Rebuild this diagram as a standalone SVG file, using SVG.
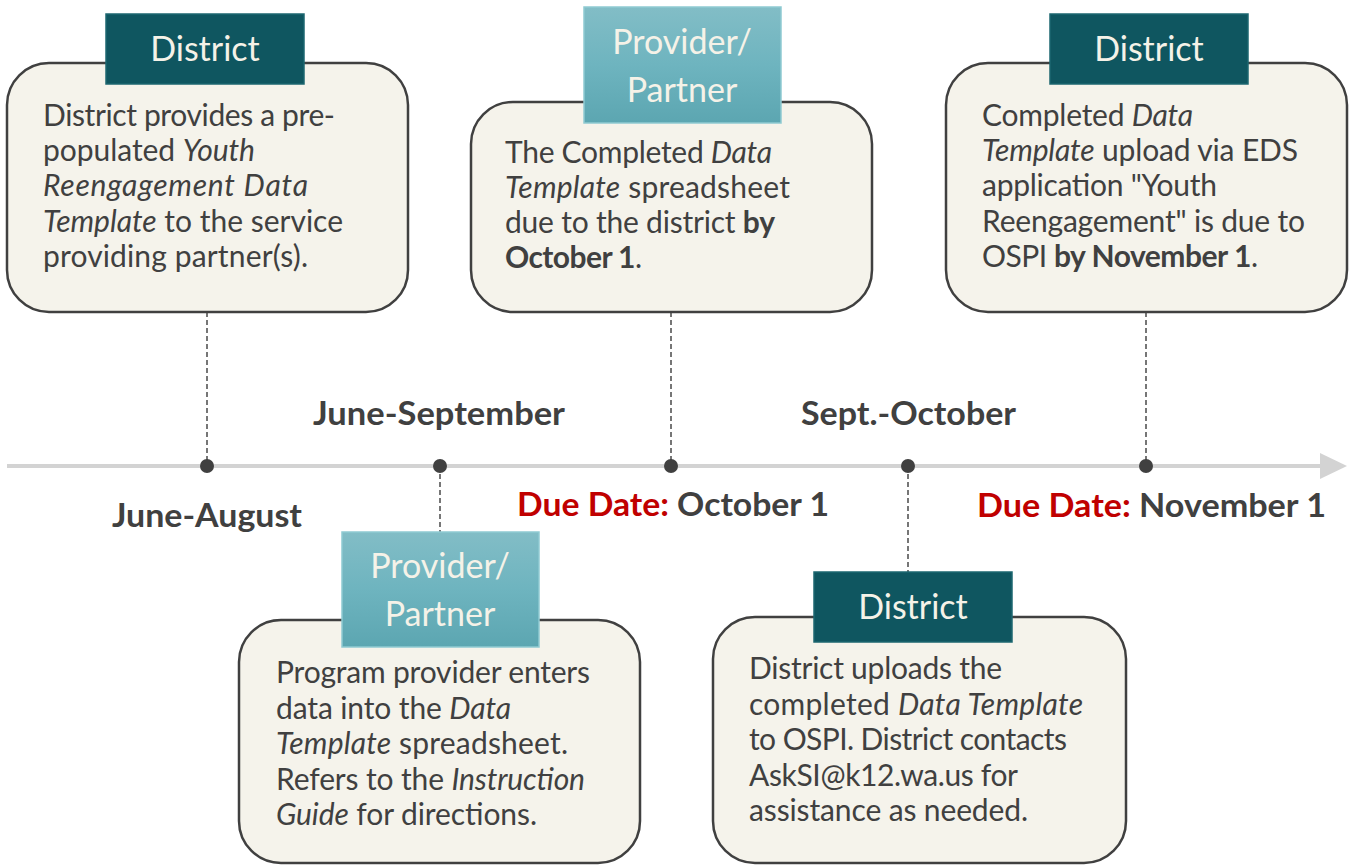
<svg xmlns="http://www.w3.org/2000/svg" width="1352" height="865" viewBox="0 0 1352 865">
<defs>
<linearGradient id="gLight" x1="0" y1="0" x2="0" y2="1">
<stop offset="0" stop-color="#82BDC6"/>
<stop offset="0.5" stop-color="#6EB4BF"/>
<stop offset="1" stop-color="#5CA6B1"/>
</linearGradient>
<marker id="arrow" markerWidth="27" markerHeight="26" refX="0" refY="13" orient="auto" markerUnits="userSpaceOnUse">
<path d="M0,0 L27,13 L0,26 Z" fill="#D3D3D3"/>
</marker>
</defs>
<style>
.box{fill:#F5F3EB;stroke:#404040;stroke-width:2.5}
.hdark{fill:#0F5660;stroke:#1C6770;stroke-width:1.5}
.hlight{fill:url(#gLight);stroke:#8FCAD2;stroke-width:1.5}
.htxt{font-family:Lato,"Open Sans",sans-serif;font-size:34px;fill:#F5F2E8;text-anchor:middle}
.body{font-family:Lato,"Open Sans",sans-serif;font-size:30px;fill:#404040}
.i{font-style:italic}
.b{font-weight:bold}
.lbl{font-family:Lato,"Open Sans",sans-serif;font-size:33px;font-weight:bold;fill:#404040}
.red{fill:#C00000}
.dash{stroke:#4A4A4A;stroke-width:1.5;stroke-dasharray:5 3;fill:none}
.dot{fill:#404040}
</style>
<rect width="1352" height="865" fill="#FFFFFF"/>

<g id="connectors">
<line x1="7" y1="466" x2="1320" y2="466" stroke="#D3D3D3" stroke-width="4" marker-end="url(#arrow)"/>
<line class="dash" x1="207" y1="312" x2="207" y2="466"/>
<line class="dash" x1="671" y1="312" x2="671" y2="466"/>
<line class="dash" x1="1146" y1="312" x2="1146" y2="466"/>
<line class="dash" x1="440" y1="466" x2="440" y2="532"/>
<line class="dash" x1="908" y1="466" x2="908" y2="572"/>
<circle class="dot" cx="207" cy="466" r="7"/>
<circle class="dot" cx="440" cy="466" r="7"/>
<circle class="dot" cx="671" cy="466" r="7"/>
<circle class="dot" cx="908" cy="466" r="7"/>
<circle class="dot" cx="1146" cy="466" r="7"/>
</g>

<g id="labels">
<text class="lbl" x="313" y="425" textLength="252" lengthAdjust="spacingAndGlyphs">June-September</text>
<text class="lbl" x="112" y="527" textLength="190" lengthAdjust="spacingAndGlyphs">June-August</text>
<text class="lbl" x="801" y="425" textLength="215" lengthAdjust="spacingAndGlyphs">Sept.-October</text>
<text class="lbl" x="517" y="516" textLength="312" lengthAdjust="spacingAndGlyphs"><tspan class="red">Due Date:</tspan> October 1</text>
<text class="lbl" x="977" y="517" textLength="349" lengthAdjust="spacingAndGlyphs"><tspan class="red">Due Date:</tspan> November 1</text>
</g>

<g id="node1">
<rect class="box" x="7" y="63" width="401" height="249" rx="42"/>
<rect class="hdark" x="106" y="14" width="198" height="70"/>
<text class="htxt" x="205" y="61">District</text>
<text class="body" x="43" y="126" textLength="292">District provides a pre-</text>
<text class="body" x="43" y="161" textLength="212">populated <tspan class="i">Youth</tspan></text>
<text class="body i" x="43" y="196" textLength="265">Reengagement Data</text>
<text class="body" x="43" y="232" textLength="300"><tspan class="i">Template</tspan> to the service</text>
<text class="body" x="43" y="267" textLength="265">providing partner(s).</text>
</g>

<g id="node2">
<rect class="box" x="471" y="102" width="401" height="210" rx="42"/>
<rect class="hlight" x="584" y="7" width="197" height="116"/>
<text class="htxt" x="682" y="54">Provider/</text>
<text class="htxt" x="682" y="102">Partner</text>
<text class="body" x="505" y="163" textLength="267">The Completed <tspan class="i">Data</tspan></text>
<text class="body" x="505" y="198" textLength="285"><tspan class="i">Template</tspan> spreadsheet</text>
<text class="body" x="505" y="233" textLength="270">due to the district <tspan class="b">by</tspan></text>
<text class="body" x="505" y="268" textLength="137"><tspan class="b">October 1</tspan>.</text>
</g>

<g id="node3">
<rect class="box" x="946" y="63" width="401" height="249" rx="42"/>
<rect class="hdark" x="1050" y="14" width="198" height="70"/>
<text class="htxt" x="1149" y="61">District</text>
<text class="body" x="982" y="126" textLength="211">Completed <tspan class="i">Data</tspan></text>
<text class="body" x="982" y="161" textLength="316"><tspan class="i">Template</tspan> upload via EDS</text>
<text class="body" x="982" y="196" textLength="235">application "Youth</text>
<text class="body" x="982" y="232" textLength="323">Reengagement" is due to</text>
<text class="body" x="982" y="267" textLength="276">OSPI <tspan class="b">by November 1</tspan>.</text>
</g>

<g id="node4">
<rect class="box" x="239" y="620" width="401" height="243" rx="42"/>
<rect class="hlight" x="342" y="532" width="197" height="115"/>
<text class="htxt" x="440" y="578">Provider/</text>
<text class="htxt" x="440" y="626">Partner</text>
<text class="body" x="276" y="683" textLength="314">Program provider enters</text>
<text class="body" x="276" y="719" textLength="235">data into the <tspan class="i">Data</tspan></text>
<text class="body" x="276" y="754" textLength="292"><tspan class="i">Template</tspan> spreadsheet.</text>
<text class="body" x="276" y="790" textLength="309">Refers to the <tspan class="i">Instruction</tspan></text>
<text class="body" x="276" y="825" textLength="261"><tspan class="i">Guide</tspan> for directions.</text>
</g>

<g id="node5">
<rect class="box" x="713" y="617" width="413" height="246" rx="42"/>
<rect class="hdark" x="814" y="572" width="198" height="70"/>
<text class="htxt" x="913" y="619">District</text>
<text class="body" x="749" y="679" textLength="253">District uploads the</text>
<text class="body" x="749" y="715" textLength="334">completed <tspan class="i">Data Template</tspan></text>
<text class="body" x="749" y="750" textLength="318">to OSPI. District contacts</text>
<text class="body" x="749" y="786" textLength="269">AskSI@k12.wa.us for</text>
<text class="body" x="749" y="821" textLength="279">assistance as needed.</text>
</g>
</svg>
